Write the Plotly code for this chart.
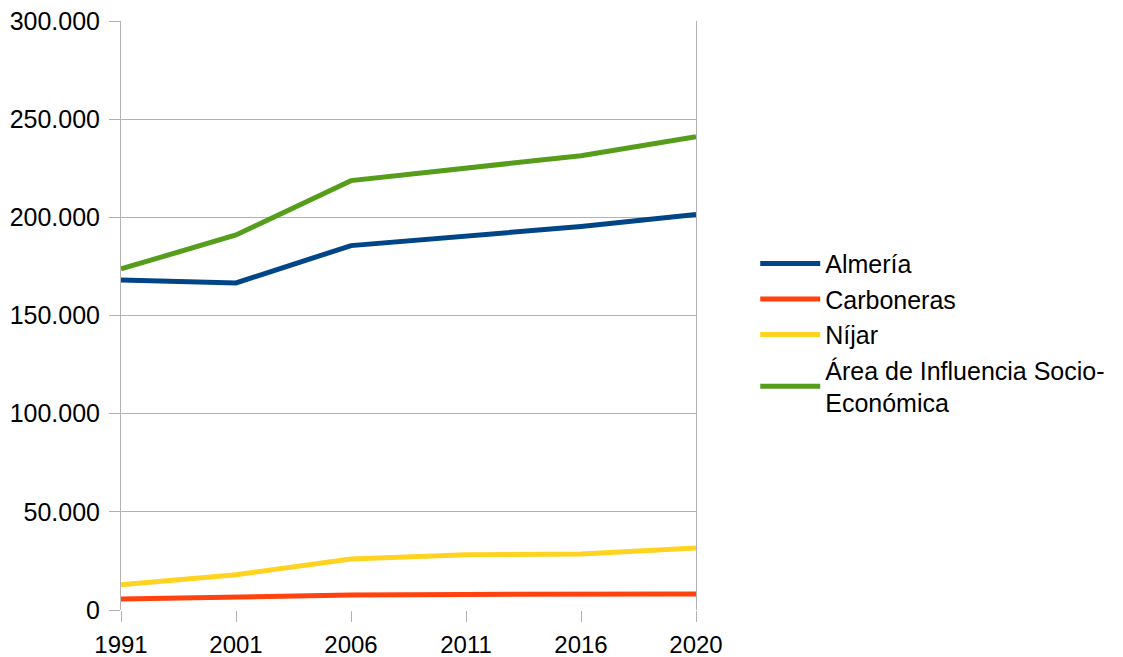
import plotly.graph_objects as go

years = ["1991", "2001", "2006", "2011", "2016", "2020"]
almeria = [168100, 166600, 185600, 190300, 195300, 201400]
carboneras = [5600, 6800, 7600, 7950, 7950, 8150]
nijar = [12900, 18000, 26000, 28200, 28500, 31600]
area = [173700, 191000, 218700, 225200, 231400, 241100]

series = [
    ("Almería", almeria, "#004586"),
    ("Carboneras", carboneras, "#ff420e"),
    ("Níjar", nijar, "#ffd320"),
    ("Área de Influencia Socio-<br>Económica", area, "#579d1c"),
]

fig = go.Figure()
xs = list(range(len(years)))
for name, vals, color in series:
    fig.add_trace(go.Scatter(x=xs, y=vals, name=name, mode="lines",
                             line=dict(color=color, width=5)))

fig.update_layout(
    width=1123, height=657,
    margin=dict(l=113, r=435, t=13, b=55, autoexpand=False),
    paper_bgcolor="white", plot_bgcolor="white",
    separators=",.",
    font=dict(family="Liberation Sans, Arial, sans-serif", size=24, color="#000000"),
    showlegend=True,
    legend=dict(x=1.103, y=0.47, xanchor="left", yanchor="middle",
                font=dict(size=25), tracegroupgap=0, itemwidth=60,
                bgcolor="rgba(0,0,0,0)"),
    xaxis=dict(
        tickmode="array", tickvals=xs, ticktext=years, range=[0, 5],
        showgrid=False, zeroline=False, automargin=False,
        showline=False, ticks="outside", ticklen=11, tickcolor="#b3b3b3",
        tickfont=dict(size=24), ticklabeloverflow="allow", ticklabelstandoff=2,
    ),
    yaxis=dict(
        range=[0, 300000], tickvals=[0, 50000, 100000, 150000, 200000, 250000, 300000],
        tickformat=",d", showgrid=True, gridcolor="#b3b3b3", gridwidth=1,
        zeroline=False, showline=True, linecolor="#b3b3b3", linewidth=1, mirror=True,
        ticks="outside", ticklen=11, tickcolor="#b3b3b3", tickfont=dict(size=25),
        ticklabelstandoff=4, ticklabeloverflow="allow", automargin=False,
    ),
)

fig.write_html("out.html")
